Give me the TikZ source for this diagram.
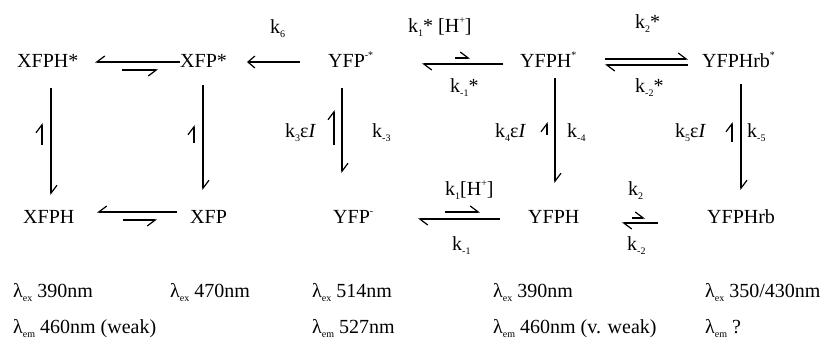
\documentclass[tikz,border=0pt]{standalone}
\usepackage{fontspec}
\setmainfont{Liberation Serif}
\usetikzlibrary{arrows.meta}
\newcommand\lw[1]{\raisebox{-0.22em}{\fontsize{10}{10}\selectfont #1}}
\newcommand\hi[1]{\raisebox{0.42em}{\fontsize{10}{10}\selectfont #1}}
\begin{document}
\begin{tikzpicture}[x=1pt,y=-1pt,
  every node/.style={font=\fontsize{20}{23}\selectfont, inner sep=0pt, anchor=base west},
  ln/.style={line width=1.2pt},
  hp/.style={ln,-{Straight Barb[harpoon,length=8pt,width=12pt,line width=1.2pt]}},
  hps/.style={ln,-{Straight Barb[harpoon,swap,length=8pt,width=12pt,line width=1.2pt]}},
  fa/.style={ln,-{Straight Barb[length=7pt,width=12pt,line width=1.2pt]}}]
\useasboundingbox (0,0) rectangle (820,341);
% species
\node (xfphs) at (17,67) {XFPH*};
\node (xfps) at (180,67) {XFP*};
\node (yfps) at (328,67) {YFP\hi{-*}};
\node (yfphs) at (520,67) {YFPH\hi{*}};
\node (yfphrbs) at (702,67) {YFPHrb\hi{*}};
\node (xfph) at (23,223) {XFPH};
\node (xfp) at (190,223) {XFP};
\node (yfp) at (333,223) {YFP\hi{-}};
\node (yfph) at (528,223) {YFPH};
\node (yfphrb) at (707,223) {YFPHrb};
% rate labels
\node (lk6) at (270,33) {k\lw{6}};
\node (lk1s) at (408,32) {k\lw{1}* [H\hi{+}]};
\node (lkm1s) at (450,92) {k\lw{-1}*};
\node (lk2s) at (635,28) {k\lw{2}*};
\node (lkm2s) at (635,92) {k\lw{-2}*};
\node (lk3) at (285,137) {k\lw{3}ε\textit{I}};
\node (lkm3) at (372,137) {k\lw{-3}};
\node (lk4) at (495,137) {k\lw{4}ε\textit{I}};
\node (lkm4) at (567,137) {k\lw{-4}};
\node (lk5) at (675,137) {k\lw{5}ε\textit{I}};
\node (lkm5) at (747,137) {k\lw{-5}};
\node (lk1) at (445,195) {k\lw{1}[H\hi{+}]};
\node (lkm1) at (452,250) {k\lw{-1}};
\node (lk2) at (628,195) {k\lw{2}};
\node (lkm2) at (627,250) {k\lw{-2}};
% spectra
\node (ex1) at (13,297) {λ\lw{ex} 390nm};
\node (ex2) at (170,297) {λ\lw{ex} 470nm};
\node (ex3) at (312,297) {λ\lw{ex} 514nm};
\node (ex4) at (493,297) {λ\lw{ex} 390nm};
\node (ex5) at (705,297) {λ\lw{ex} 350/430nm};
\node (em1) at (13,333) {λ\lw{em} 460nm (weak)};
\node (em3) at (312,333) {λ\lw{em} 527nm};
\node (em4) at (493,333) {λ\lw{em} 460nm (v. weak)};
\node (em5) at (705,333) {λ\lw{em} ?};
% connector end points
\coordinate (a1) at (180,62); \coordinate (a2) at (95,62);
\coordinate (a3) at (122,70); \coordinate (a4) at (158,70);
\coordinate (b1) at (300,62); \coordinate (b2) at (247,62);
\coordinate (c1) at (455,58); \coordinate (c2) at (470,58);
\coordinate (c3) at (503,64); \coordinate (c4) at (422,64);
\coordinate (d1) at (605,59); \coordinate (d2) at (688,59);
\coordinate (d3) at (688,65); \coordinate (d4) at (605,65);
\coordinate (e1) at (177,212); \coordinate (e2) at (97,212);
\coordinate (e3) at (123,220); \coordinate (e4) at (157,220);
\coordinate (f1) at (445,212); \coordinate (f2) at (480,212);
\coordinate (f3) at (500,219); \coordinate (f4) at (418,219);
\coordinate (g1) at (632,218); \coordinate (g2) at (645,218);
\coordinate (g3) at (658,223); \coordinate (g4) at (622,223);
\coordinate (v1a) at (51,88); \coordinate (v1b) at (51,195);
\coordinate (v1c) at (42,145); \coordinate (v1d) at (42,123);
\coordinate (v2a) at (203,85); \coordinate (v2b) at (203,190);
\coordinate (v2c) at (194,143); \coordinate (v2d) at (194,125);
\coordinate (v3a) at (342,88); \coordinate (v3b) at (342,173);
\coordinate (v3c) at (334,145); \coordinate (v3d) at (334,110);
\coordinate (v4a) at (555,78); \coordinate (v4b) at (555,183);
\coordinate (v4c) at (547,135); \coordinate (v4d) at (547,122);
\coordinate (v5a) at (741,84); \coordinate (v5b) at (741,190);
\coordinate (v5c) at (732,142); \coordinate (v5d) at (732,122);
% horizontal equilibria
\draw[hps] (a1) -- (a2); \draw[hps] (a3) -- (a4);
\draw[fa] (b1) -- (b2);
\draw[hp] (c1) -- (c2); \draw[hp] (c3) -- (c4);
\draw[hp] (d1) -- (d2); \draw[hp] (d3) -- (d4);
\draw[hps] (e1) -- (e2); \draw[hps] (e3) -- (e4);
\draw[hp] (f1) -- (f2); \draw[hp] (f3) -- (f4);
\draw[hp] (g1) -- (g2); \draw[hp] (g3) -- (g4);
% vertical equilibria
\draw[hp] (v1a) -- (v1b); \draw[hp] (v1c) -- (v1d);
\draw[hp] (v2a) -- (v2b); \draw[hp] (v2c) -- (v2d);
\draw[hp] (v3a) -- (v3b); \draw[hp] (v3c) -- (v3d);
\draw[hp] (v4a) -- (v4b); \draw[hp] (v4c) -- (v4d);
\draw[hp] (v5a) -- (v5b); \draw[hp] (v5c) -- (v5d);
\end{tikzpicture}
\end{document}
